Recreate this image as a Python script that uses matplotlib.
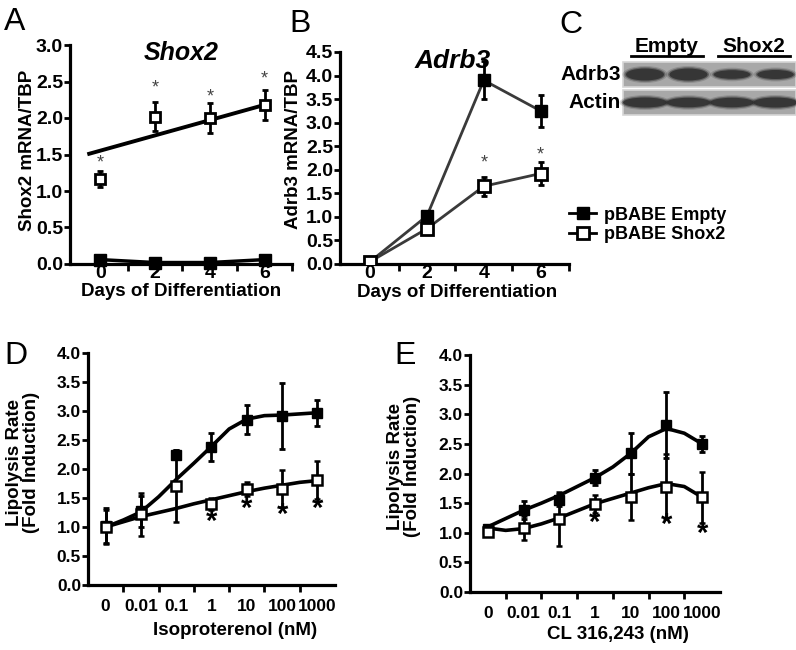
import matplotlib
matplotlib.use("Agg")
import matplotlib.pyplot as plt
from matplotlib.lines import Line2D
from matplotlib.patches import Rectangle, Ellipse

plt.rcParams['font.family'] = ['Liberation Sans', 'DejaVu Sans']
plt.rcParams['font.weight'] = 'bold'
plt.rcParams['axes.labelweight'] = 'bold'

W, H = 796, 650

# --- panel A: Shox2 mRNA ---
days = [0, 2, 4, 6]
shox2_empty = [0.06, 0.02, 0.02, 0.06]
shox2_shox2 = [1.17, 2.02, 2.00, 2.18]
shox2_shox2_err = [0.11, 0.20, 0.20, 0.21]
shox2_trend_x = [-0.4, 6.0]
shox2_trend_y = [1.51, 2.18]
shox2_star_y = [1.38, 2.41, 2.29, 2.53]

# --- panel B: Adrb3 mRNA ---
adrb3_empty = [0.05, 1.02, 3.90, 3.25]
adrb3_empty_err = [0.0, 0.08, 0.40, 0.34]
adrb3_shox2 = [0.05, 0.75, 1.65, 1.92]
adrb3_shox2_err = [0.0, 0.05, 0.20, 0.24]
adrb3_star_x = [4, 6]
adrb3_star_y = [2.14, 2.31]

# --- panel C: western blot band intensities (relative) ---
blot_groups = ['Empty', 'Shox2']
blot_rows = ['Adrb3', 'Actin']
adrb3_band = [1.0, 1.0, 0.72, 0.75]
actin_band = [1.0, 0.95, 0.95, 1.0]

# --- panels D/E: lipolysis dose response ---
dose_labels = ['0', '0.01', '0.1', '1', '10', '100', '1000']
fit_x = [0, 0.5, 1, 1.5, 2, 2.5, 3, 3.5, 4, 4.5, 5, 5.5, 6]

iso_empty = [1.02, 1.27, 2.25, 2.38, 2.85, 2.92, 2.97]
iso_empty_err = [0.30, 0.27, 0.08, 0.24, 0.25, 0.57, 0.22]
iso_shox2 = [1.00, 1.22, 1.71, 1.40, 1.66, 1.66, 1.81]
iso_shox2_err = [0.30, 0.37, 0.62, 0.10, 0.12, 0.32, 0.33]
iso_fit_empty = [1.0, 1.12, 1.26, 1.52, 1.82, 2.10, 2.39, 2.69, 2.86, 2.92, 2.93, 2.95, 2.97]
iso_fit_shox2 = [1.0, 1.09, 1.18, 1.25, 1.32, 1.40, 1.47, 1.54, 1.61, 1.67, 1.72, 1.77, 1.80]
iso_star_x = [3, 4, 5, 6]
iso_star_y = [1.09, 1.32, 1.21, 1.32]

cl_empty = [1.07, 1.38, 1.55, 1.93, 2.34, 2.82, 2.50]
cl_empty_err = [0.06, 0.15, 0.10, 0.13, 0.35, 0.56, 0.13]
cl_shox2 = [1.02, 1.08, 1.23, 1.49, 1.60, 1.78, 1.60]
cl_shox2_err = [0.07, 0.21, 0.46, 0.15, 0.39, 0.55, 0.43]
cl_fit_empty = [1.10, 1.24, 1.38, 1.50, 1.63, 1.78, 1.93, 2.11, 2.34, 2.62, 2.76, 2.68, 2.50]
cl_fit_shox2 = [1.08, 1.04, 1.07, 1.15, 1.25, 1.37, 1.49, 1.58, 1.67, 1.76, 1.83, 1.78, 1.60]
cl_star_x = [3, 5, 6]
cl_star_y = [1.17, 1.13, 0.98]


def fxy(x, y):
    """pixel position -> figure fraction"""
    return x / W, 1 - y / H


def box(left, top, right, bottom):
    return [left / W, 1 - bottom / H, (right - left) / W, (bottom - top) / H]


def style_axis(ax, ymax, ystep, fs):
    for s in ['top', 'right']:
        ax.spines[s].set_visible(False)
    for s in ['left', 'bottom']:
        ax.spines[s].set_linewidth(2.3)
    n = int(round(ymax / ystep))
    ticks = [i * ystep for i in range(n + 1)]
    ax.set_ylim(0, ymax)
    ax.set_yticks(ticks, [f'{t:.1f}' for t in ticks])
    ax.tick_params(axis='y', length=4, width=2, pad=1, labelsize=fs)
    ax.tick_params(axis='x', which='major', length=0, labelsize=fs)
    ax.tick_params(axis='x', which='minor', length=5, width=2)


fig = plt.figure(figsize=(W / 100, H / 100), dpi=100)

eb_kw = dict(ecolor='black', elinewidth=2, capsize=2.5, capthick=2)

# ---------- A ----------
ax_a = fig.add_axes(box(70, 45, 292, 264))
style_axis(ax_a, 3.0, 0.5, 14)
ax_a.set_xlim(-1.1, 7)
ax_a.set_xticks(days, [str(d) for d in days])
ax_a.set_xticks([1, 3, 5, 7], minor=True)
ax_a.tick_params(axis='x', which='major', pad=1)
ax_a.plot(days, shox2_empty, color='black', lw=2.5, marker='s', ms=8,
          mfc='black', mec='black', zorder=3, clip_on=False)
ax_a.plot(shox2_trend_x, shox2_trend_y, color='black', lw=2.8, zorder=2)
ax_a.errorbar(days, shox2_shox2, yerr=shox2_shox2_err, fmt='s', ms=7,
              mfc='white', mec='black', mew=2, zorder=4, **eb_kw)
for x, y in zip(days, shox2_star_y):
    ax_a.text(x, y, '*', ha='center', va='center', fontsize=13,
              fontweight='normal', color='#444444')
ax_a.text(0.5, 0.965, 'Shox2', transform=ax_a.transAxes, ha='center',
          va='center', fontsize=18, style='italic')
ax_a.set_ylabel('Shox2 mRNA/TBP', fontsize=13.5)
ax_a.yaxis.set_label_coords(-0.155, 0.52)
ax_a.set_xlabel('Days of Differentiation', fontsize=13.5)
ax_a.xaxis.set_label_coords(0.5, -0.088)

# ---------- B ----------
ax_b = fig.add_axes(box(340, 52, 569, 264))
style_axis(ax_b, 4.5, 0.5, 14)
ax_b.set_xlim(-1.06, 7)
ax_b.set_xticks(days, [str(d) for d in days])
ax_b.set_xticks([1, 3, 5, 7], minor=True)
ax_b.tick_params(axis='x', which='major', pad=1)
ax_b.errorbar(days, adrb3_empty, yerr=adrb3_empty_err, fmt='-s',
              color='#3a3a3a', lw=2, ms=9, mfc='black', mec='black',
              zorder=3, **eb_kw)
ax_b.errorbar(days, adrb3_shox2, yerr=adrb3_shox2_err, fmt='-s',
              color='#3a3a3a', lw=2, ms=8, mfc='white', mec='black',
              mew=2, zorder=4, **eb_kw)
for x, y in zip(adrb3_star_x, adrb3_star_y):
    ax_b.text(x, y, '*', ha='center', va='center', fontsize=13,
              fontweight='normal', color='#444444')
ax_b.text(0.49, 0.957, 'Adrb3', transform=ax_b.transAxes, ha='center',
          va='center', fontsize=19, style='italic')
ax_b.set_ylabel('Adrb3 mRNA/TBP', fontsize=13.5)
ax_b.yaxis.set_label_coords(-0.165, 0.54)
ax_b.set_xlabel('Days of Differentiation', fontsize=13.5)
ax_b.xaxis.set_label_coords(0.51, -0.092)

# legend for A/B
leg_handles = [
    Line2D([], [], color='black', lw=2, marker='s', ms=9, mfc='black', mec='black'),
    Line2D([], [], color='black', lw=2, marker='s', ms=8, mfc='white', mec='black', mew=2),
]
fig.legend(leg_handles, ['pBABE Empty', 'pBABE Shox2'], loc='center left',
           bbox_to_anchor=fxy(553, 225), frameon=False, handlelength=1.5,
           handletextpad=0.4, labelspacing=0.15, prop=dict(size=13, weight='bold'))

# ---------- C: blot ----------
ax_c = fig.add_axes(box(555, 28, 796, 130))
ax_c.set_xlim(555, 796)
ax_c.set_ylim(130, 28)
ax_c.axis('off')
row_top = [62, 90]
for top in row_top:
    ax_c.add_patch(Rectangle((623, top), 173, 25, fc='#a8a8a8', ec='#d6d6d6', lw=1.2))
lane_x = [645 + 43.5 * i for i in range(4)]
for row, sig, wid, hgt in [(0, adrb3_band, 38, 12), (1, actin_band, 44, 10)]:
    cy = row_top[row] + 12.5
    for x, s in zip(lane_x, sig):
        h = hgt * s
        for dw, dh, a in [(7, 5, 0.2), (3, 2.5, 0.45), (0, 0, 0.85)]:
            ax_c.add_patch(Ellipse((x, cy), wid * (0.85 + 0.15 * s) + dw, h + dh,
                                   fc='#2e2e2e', ec='none', alpha=a))
for name, top in zip(blot_rows, row_top):
    ax_c.text(621, top + 13, name, ha='right', va='center', fontsize=15)
for i, name in enumerate(blot_groups):
    cx = (lane_x[2 * i] + lane_x[2 * i + 1]) / 2
    ax_c.text(cx, 46, name, ha='center', va='center', fontsize=15)
    ax_c.plot([cx - 36, cx + 36], [56, 56], color='black', lw=2)


# ---------- D / E ----------
def dose_panel(ax, empty, empty_err, shox2, shox2_err, fit_e, fit_s,
               star_x, star_y, xlabel, xlab_x, xlab_y):
    style_axis(ax, 4.0, 0.5, 12.5)
    pos = list(range(len(dose_labels)))
    ax.set_xlim(-0.5, 6.5)
    ax.set_xticks(pos, dose_labels)
    ax.set_xticks([0.5, 1.5, 2.5, 3.5, 4.5, 5.5], minor=True)
    ax.tick_params(axis='x', which='major', pad=10)
    ax.plot(fit_x, fit_e, color='black', lw=2.6, zorder=2, solid_joinstyle='round')
    ax.plot(fit_x, fit_s, color='black', lw=2.6, zorder=2, solid_joinstyle='round')
    ax.errorbar(pos, empty, yerr=empty_err, fmt='s', ms=7, mfc='black',
                mec='black', zorder=3, **eb_kw)
    ax.errorbar(pos, shox2, yerr=shox2_err, fmt='s', ms=7, mfc='white',
                mec='black', mew=1.8, zorder=4, **eb_kw)
    for x, y in zip(star_x, star_y):
        ax.text(x, y, '*', ha='center', va='center', fontsize=21)
    ax.set_ylabel('Lipolysis Rate\n(Fold Induction)', fontsize=13.5,
                  linespacing=1.0)
    ax.yaxis.set_label_coords(-0.195, 0.53)
    ax.set_xlabel(xlabel, fontsize=13.5)
    ax.xaxis.set_label_coords(xlab_x, xlab_y)


ax_d = fig.add_axes(box(88, 353, 335, 585))
dose_panel(ax_d, iso_empty, iso_empty_err, iso_shox2, iso_shox2_err,
           iso_fit_empty, iso_fit_shox2, iso_star_x, iso_star_y,
           'Isoproterenol (nM)', 0.595, -0.16)

ax_e = fig.add_axes(box(470, 355, 720, 592))
dose_panel(ax_e, cl_empty, cl_empty_err, cl_shox2, cl_shox2_err,
           cl_fit_empty, cl_fit_shox2, cl_star_x, cl_star_y,
           'CL 316,243 (nM)', 0.59, -0.145)

# make every tick label bold
for ax in [ax_a, ax_b, ax_d, ax_e]:
    for lbl in ax.get_xticklabels() + ax.get_yticklabels():
        lbl.set_fontweight('bold')

# panel letters
for letter, (x, y) in zip('ABCDE', [(15, 22), (300, 24), (571, 25), (16, 356), (405, 356)]):
    fig.text(*fxy(x, y), letter, ha='center', va='center', fontsize=23,
             fontweight='normal')

fig.savefig('out.png', dpi=100)
